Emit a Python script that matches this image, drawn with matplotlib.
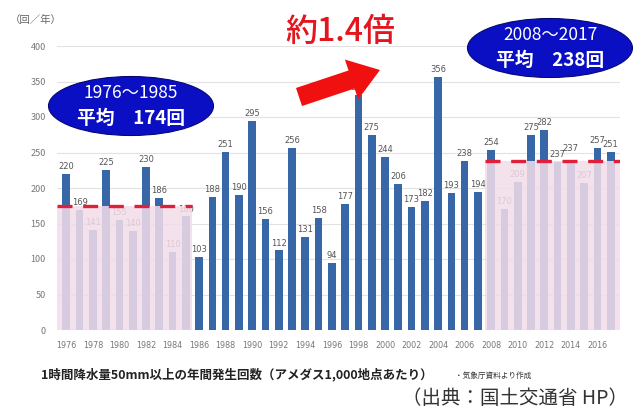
import matplotlib
matplotlib.use("Agg")
import matplotlib.pyplot as plt
from matplotlib.patches import Ellipse, Rectangle

plt.rcParams['font.family'] = ['Noto Sans CJK JP', 'DejaVu Sans']

# 1時間降水量50mm以上の年間発生回数
years = list(range(1976, 2018))
counts = [220, 169, 141, 225, 155, 140, 230, 186, 110, 160,
          103, 188, 251, 190, 295, 156, 112, 256, 131, 158,
          94, 177, 331, 275, 244, 206, 173, 182, 356, 193,
          238, 194, 254, 170, 209, 275, 282, 237, 237, 207,
          257, 251]
early_period = (1976, 1985)
late_period = (2008, 2017)
early_avg = 174
late_avg = 238
yticks = [0, 50, 100, 150, 200, 250, 300, 350, 400]
xticks = list(range(1976, 2017, 2))

W, H = 635, 412
fig = plt.figure(figsize=(W / 100, H / 100), dpi=100)
ax = fig.add_axes([57 / W, 1 - 330 / H, (620 - 57) / W, (330 - 46) / H])

bar_color = '#3867a8'
ax.bar(years, counts, width=0.58, color=bar_color, zorder=2)
for x, v in zip(years, counts):
    dy = 12 if x == 2014 else 4  # 重なる数値ラベルを少しずらす
    ax.text(x, v + dy, str(v), ha='center', va='bottom', fontsize=6.0,
            color='#555555', zorder=3, family=['DejaVu Sans'])

x0, x1 = 1975.3, 2017.7
ax.set_xlim(x0, x1)
ax.set_ylim(0, 400)

# 期間の網掛けと平均線
pink = '#f2dce9'
ax.add_patch(Rectangle((x0, 0), early_period[1] + 0.5 - x0, early_avg,
                       facecolor=pink, alpha=0.86, edgecolor='none', zorder=4))
ax.add_patch(Rectangle((late_period[0] - 0.5, 0), x1 - (late_period[0] - 0.5), late_avg,
                       facecolor=pink, alpha=0.86, edgecolor='none', zorder=4))
ax.plot([x0, early_period[1] + 0.5], [early_avg, early_avg], color='#e0203a',
        lw=2.4, dashes=(4.5, 3.2), zorder=5)
ax.plot([late_period[0] - 0.5, x1], [late_avg, late_avg], color='#e0203a',
        lw=2.4, dashes=(4.5, 3.2), zorder=5)

ax.set_yticks(yticks)
ax.set_xticks(xticks)
ax.set_xticklabels([str(y) for y in xticks], family=['DejaVu Sans'])
ax.tick_params(axis='both', length=0, labelsize=6.5, colors='#777777')
ax.tick_params(axis='y', pad=8)
ax.tick_params(axis='x', labelsize=5.8, pad=8)
ax.yaxis.grid(True, color='#e2e2e2', lw=0.8, zorder=0)
ax.set_axisbelow(True)
for s in ax.spines.values():
    s.set_visible(False)

fig.text(10 / W, 1 - 20 / H, '（回／年）', fontsize=7.5, color='#666666', va='center')

# 楕円の注記
for cx, cy, l1, l2 in [(131, 106, '1976～1985', '平均　174回'),
                       (550, 48, '2008～2017', '平均　238回')]:
    fig.patches.append(Ellipse((cx / W, 1 - cy / H), 165 / W, 59 / H,
                               transform=fig.transFigure, facecolor='#0b0fc4',
                               edgecolor='#050870', lw=0.8))
    fig.text(cx / W, 1 - (cy - 13) / H, l1, ha='center', va='center',
             fontsize=12.5, color='white')
    fig.text(cx / W, 1 - (cy + 12) / H, l2, ha='center', va='center',
             fontsize=13.5, color='white', fontweight='bold')

fig.text(340 / W, 1 - 32 / H, '約1.4倍', ha='center', va='center',
         fontsize=23, color='#e3151d', fontweight='medium')
ax.annotate('', xy=(380, H - 70), xytext=(299, H - 97),
            xycoords='figure pixels', textcoords='figure pixels', zorder=10,
            arrowprops=dict(arrowstyle='simple,head_width=2.1,head_length=1.5,tail_width=0.95',
                            fc='#f01010', ec='none', mutation_scale=14.4,
                            shrinkA=0, shrinkB=0))

fig.text(237 / W, 1 - 375 / H, '1時間降水量50mm以上の年間発生回数（アメダス1,000地点あたり）',
         ha='center', va='center', fontsize=9, color='#222222', fontweight='bold')
fig.text(455 / W, 1 - 376 / H, '・気象庁資料より作成', ha='left', va='center',
         fontsize=5.5, color='#333333')
fig.text(628 / W, 1 - 399 / H, '（出典：国土交通省 HP）', ha='right', va='center',
         fontsize=14, color='#333333')

fig.savefig('out.png', dpi=100)
